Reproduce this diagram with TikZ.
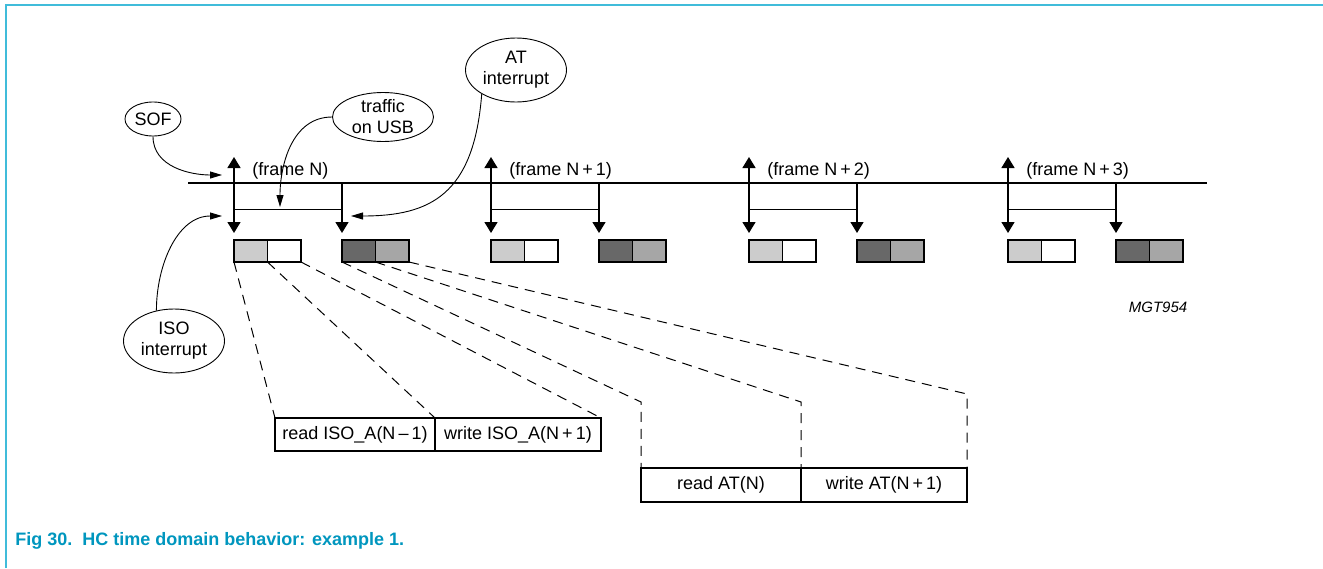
\documentclass[tikz,border=0pt]{standalone}
\usepackage{fontspec}
\setmainfont{Liberation Sans}
\usetikzlibrary{shapes.geometric,arrows.meta,positioning}
\definecolor{rulecyan}{RGB}{64,188,218}
\definecolor{capblue}{RGB}{0,150,190}
\definecolor{lightg}{RGB}{204,204,204}
\definecolor{darkg}{RGB}{104,104,104}
\definecolor{midg}{RGB}{166,166,166}

\begin{document}
\begin{tikzpicture}[x=0.5pt,y=-0.5pt,
    >={Triangle[width=6.5pt,length=5.5pt]},
    bub/.style = {draw, ellipse, line width=0.45pt, inner sep=0pt, align=center, font=\fontsize{9}{10.5}\selectfont},
    cellbox/.style = {draw, line width=0.6pt, minimum width=16.75pt, minimum height=11pt, inner sep=0pt, outer sep=0pt},
    slot/.style = {draw, line width=0.6pt, minimum height=16.5pt, inner sep=0pt, outer sep=0pt, font=\fontsize{9}{10.5}\selectfont},
    tickarr/.style = {line width=0.7pt},
    conn/.style = {line width=0.45pt, -{Triangle[width=3.5pt,length=6pt]}},
    guide/.style = {line width=0.5pt, dash pattern=on 5pt off 3.5pt},
    lbl/.style = {inner sep=0pt, font=\fontsize{9}{10.5}\selectfont}]
    \useasboundingbox (0,0) rectangle (1323,568);
    \draw[rulecyan, line width=1pt] (6,568) -- (6,5) -- (1323,5);

    % time line with the four frames
    \draw[line width=0.8pt] (188,183) -- (1207,183);
    \foreach \i/\x/\lab in {0/234/{(frame N)}, 1/491/{(frame N\,+\,1)}, 2/749/{(frame N\,+\,2)}, 3/1008/{(frame N\,+\,3)}} {
        \coordinate (t\i) at (\x,157);
        \coordinate (b\i) at (\x,233);
        \coordinate (e\i) at (\x+108,233);
        \draw[tickarr, <->] (t\i) -- (b\i);
        \draw[tickarr, ->] (\x+108,183) -- (e\i);
        \draw[line width=0.5pt] (\x,209) -- (\x+108,209);
        \node[lbl, anchor=base west] (f\i) at (\x+18,175) {\lab};
        \node[cellbox, fill=lightg, anchor=north west] (l\i) at (\x,240) {};
        \node[cellbox, right=0pt of l\i] (w\i) {};
        \node[cellbox, fill=darkg, anchor=north west] (d\i) at (\x+108,240) {};
        \node[cellbox, fill=midg, right=0pt of d\i] (m\i) {};
    }

    \node[bub, minimum width=28pt, minimum height=17pt] (sof) at (153,119) {SOF};
    \node[bub, minimum width=50.5pt, minimum height=24.5pt, inner ysep=-1.5pt] (usb) at (383,117) {traffic\\on USB};
    \node[bub, minimum width=50.5pt, minimum height=32pt] (atint) at (516,70) {AT\\interrupt};
    \node[bub, minimum width=50.5pt, minimum height=32pt] (isoint) at (174,341) {ISO\\interrupt};

    \coordinate (s1) at (222,175);
    \coordinate (u1) at (280,207);
    \coordinate (a1) at (351,216);
    \coordinate (i1) at (222,216);
    \draw[conn] (sof.south) to[out=-90,in=180] (s1);
    \draw[conn] (usb.west) to[out=180,in=90] (u1);
    \draw[conn] (atint.215) .. controls (474,195) and (430,216) .. (a1);
    \draw[conn] (isoint.120) to[out=90,in=180] (i1);

    % read / write slots
    \node[slot, minimum width=80pt, anchor=north west] (rd) at (275,418) {read ISO\_A(N\,--\,1)};
    \node[slot, minimum width=83pt, right=0pt of rd] (wr) {write ISO\_A(N\,+\,1)};
    \node[slot, minimum width=80pt, minimum height=17pt, anchor=north west] (ra) at (641,468) {read AT(N)};
    \node[slot, minimum width=83pt, minimum height=17pt, right=0pt of ra] (wa) {write AT(N\,+\,1)};

    \draw[guide] (l0.south west) -- (rd.north west);
    \draw[guide] (l0.south east) -- (rd.north east);
    \draw[guide] (w0.south east) -- (wr.north east);
    \draw[guide] (d0.south west) -- (ra.north west |- 0,402) -- (ra.north west);
    \draw[guide] (d0.south east) -- (ra.north east |- 0,402) -- (ra.north east);
    \draw[guide] (m0.south east) -- (wa.north east |- 0,394) -- (wa.north east);

    \node[lbl, anchor=base, font=\itshape\fontsize{7.5}{9}\selectfont] (code) at (1158,312) {MGT954};
    \node[lbl, anchor=base west, text=capblue, font=\bfseries\fontsize{9}{11}\selectfont] (title) at (15,545) {Fig 30.\ \ HC time domain behavior: example 1.};
\end{tikzpicture}
\end{document}
